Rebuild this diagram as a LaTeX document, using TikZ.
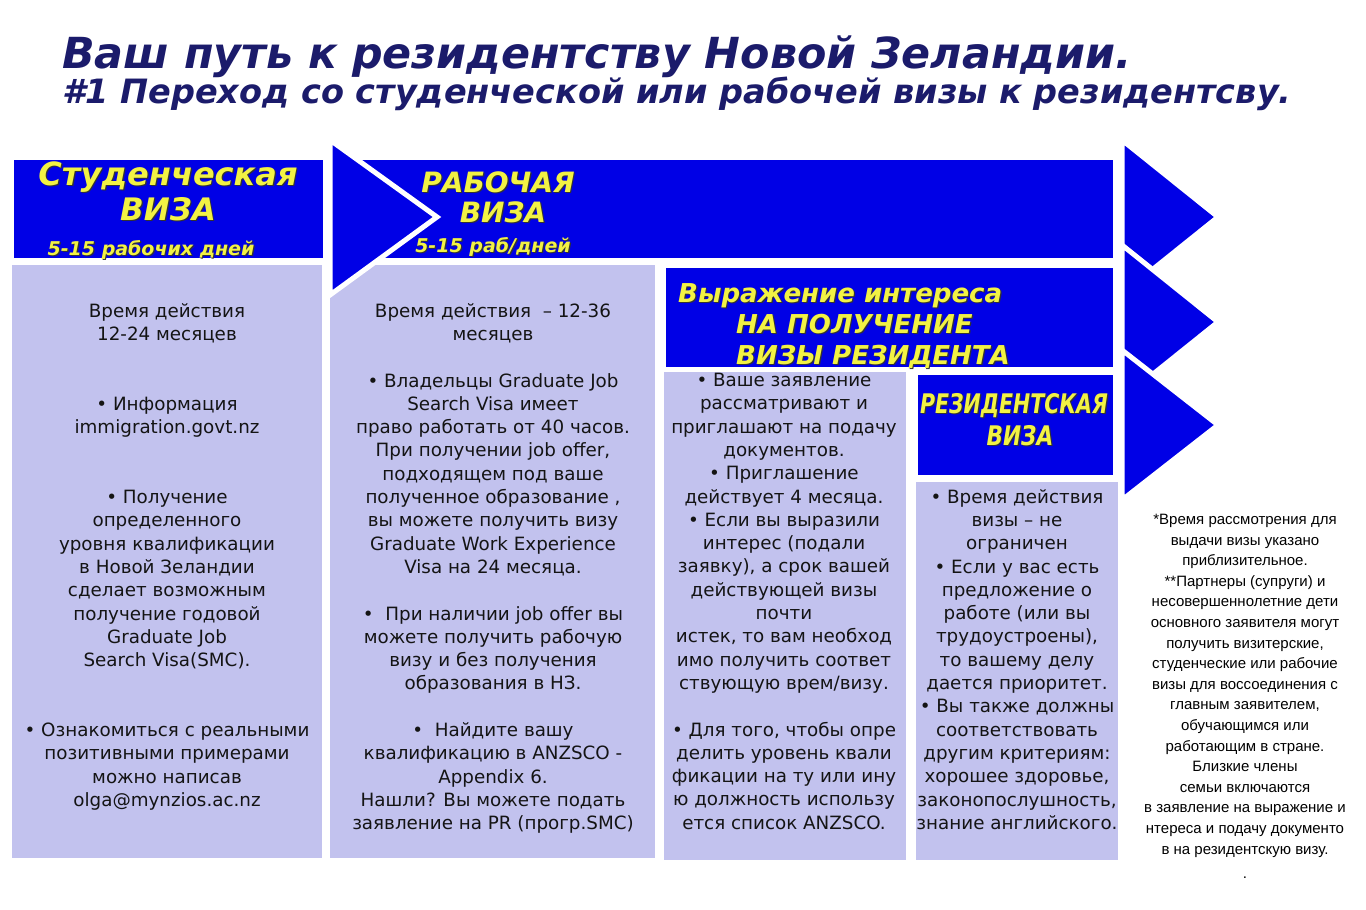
\documentclass[tikz,border=0pt]{standalone}
\usepackage{fontspec}
\setmainfont{DejaVu Sans}
\newfontfamily\hdfont{DejaVu Sans Bold Oblique}
\newfontfamily\bodyfont{DejaVu Sans}
\newfontfamily\notefont{Liberation Sans}
\definecolor{vblue}{HTML}{0000E6}
\definecolor{lav}{HTML}{C2C2EE}
\definecolor{ylw}{HTML}{F2F244}
\definecolor{navy}{HTML}{1B1B6B}
\definecolor{ink}{HTML}{141414}
\tikzset{
  bluebox/.style={fill=vblue},
  lavbox/.style={fill=lav},
  arrowtri/.style={fill=vblue, draw=white, line width=5pt, line join=miter},
  body/.style={font=\bodyfont\fontsize{18.3}{23.3}\selectfont, align=center, inner sep=0pt, anchor=north, text=ink},
  note/.style={font=\notefont\fontsize{15}{20.6}\selectfont, align=center, inner sep=0pt, anchor=north, text=black},
  hdr/.style={inner sep=0pt, text=ylw},
  hdrshadow/.style={inner sep=0pt, text=black!80, xshift=1.2pt, yshift=-1.2pt},
  ttl/.style={inner sep=0pt, anchor=base west, text=navy}
}
% yellow header text with a dark shadow: name, anchor, position, size, text
\newcommand\yhead[5]{%
  \node[hdrshadow, anchor=#2, font=\hdfont\fontsize{#4}{#4}\selectfont] (#1sh) at (#3) {#5};
  \node[hdr, anchor=#2, font=\hdfont\fontsize{#4}{#4}\selectfont] (#1) at (#3) {#5};}
\begin{document}
\begin{tikzpicture}[x=1pt, y=-1pt]
\useasboundingbox (0,0) rectangle (1366,910);
\fill[white] (0,0) rectangle (1366,910);

% titles
\node[ttl, font=\hdfont\fontsize{42.8}{42.8}\selectfont] (title1) at (62,68) {Ваш путь к резидентству Новой Зеландии.};
\node[ttl, font=\hdfont\fontsize{33.5}{33.5}\selectfont] (title2) at (62,103) {\#1 Переход со студенческой или рабочей визы к резидентсву.};

% boxes
\fill[bluebox] (14,160) rectangle (323,258);
\fill[lavbox] (12,265) rectangle (322,858);
\fill[lavbox] (330,265) rectangle (655,858);
\fill[bluebox] (362,160) rectangle (1113,258);
\fill[arrowtri] (330,140) -- (437,217) -- (330,295) -- cycle;
\fill[bluebox] (666,268) rectangle (1113,367);
\fill[lavbox] (664,372) rectangle (906,860);
\fill[bluebox] (918,375) rectangle (1113,475);
\fill[lavbox] (916,482) rectangle (1118,860);

% right arrows
\filldraw[arrowtri] (1122,140) -- (1218,217) -- (1122,294) -- cycle;
\filldraw[arrowtri] (1122,245) -- (1218,322) -- (1122,399) -- cycle;
\filldraw[arrowtri] (1122,350) -- (1218,425) -- (1122,500) -- cycle;

% header texts
\yhead{stA}{base}{168,185}{32}{Студенческая}
\yhead{stB}{base}{168,220}{31}{ВИЗА}
\yhead{stC}{base}{151,255}{19}{5-15 рабочих дней}
\yhead{wkA}{base}{498,192}{28}{РАБОЧАЯ}
\yhead{wkB}{base}{503,222}{28}{ВИЗА}
\yhead{wkC}{base}{493,252}{19}{5-15 раб/дней}
\yhead{eoA}{base west}{678,302}{26}{Выражение интереса}
\yhead{eoB}{base west}{736,333}{26}{НА ПОЛУЧЕНИЕ}
\yhead{eoC}{base west}{736,364}{26}{ВИЗЫ РЕЗИДЕНТА}
\yhead{rsA}{base}{1014,413}{27}{\scalebox{0.76}[1]{РЕЗИДЕНТСКАЯ}}
\yhead{rsB}{base}{1020,445}{27}{\scalebox{0.8}[1]{ВИЗА}}

% column texts
\node[body] (stBody) at (167,303) {Время действия\\12-24 месяцев\\[46.6pt]
• Информация\\immigration.govt.nz\\[46.6pt]
• Получение\\определенного\\уровня квалификации\\в Новой Зеландии\\сделает возможным\\получение годовой\\Graduate Job\\Search Visa(SMC).\\[46.6pt]
• Ознакомиться с реальными\\позитивными примерами\\можно написав\\olga@mynzios.ac.nz};

\node[body] (wkBody) at (493,303) {Время действия \ – 12-36\\месяцев\\[23.3pt]
• Владельцы Graduate Job\\Search Visa имеет\\право работать от 40 часов.\\При получении job offer,\\подходящем под ваше\\полученное образование ,\\вы можете получить визу\\Graduate Work Experience\\Visa на 24 месяца.\\[23.3pt]
• \ При наличии job offer вы\\можете получить рабочую\\визу и без получения\\образования в НЗ.\\[23.3pt]
• \ Найдите вашу\\квалификацию в ANZSCO -\\Appendix 6.\\Нашли? Вы можете подать\\заявление на PR (прогр.SMC)};

\node[body] (eoBody) at (784,373) {• Ваше заявление\\рассматривают и\\приглашают на подачу\\документов.\\• Приглашение\\действует 4 месяца.\\• Если вы выразили\\интерес (подали\\заявку), а срок вашей\\действующей визы\\почти\\истек, то вам необход\\имо получить соответ\\ствующую врем/визу.\\[23.3pt]
• Для того, чтобы опре\\делить уровень квали\\фикации на ту или ину\\ю должность использу\\ется список ANZSCO.};

\node[body] (rsBody) at (1017,489) {• Время действия\\визы – не\\ограничен\\• Если у вас есть\\предложение о\\работе (или вы\\трудоустроены),\\то вашему делу\\дается приоритет.\\• Вы также должны\\соответствовать\\другим критериям:\\хорошее здоровье,\\законопослушность,\\знание английского.};

\node[note] (footnote) at (1245,514) {*Время рассмотрения для\\выдачи визы указано\\приблизительное.\\**Партнеры (супруги) и\\несовершеннолетние дети\\основного заявителя могут\\получить визитерские,\\студенческие или рабочие\\визы для воссоединения с\\главным заявителем,\\обучающимся или\\работающим в стране.\\Близкие члены\\семьи включаются\\в заявление на выражение и\\нтереса и подачу документо\\в на резидентскую визу.\\[4pt].};
\end{tikzpicture}
\end{document}
